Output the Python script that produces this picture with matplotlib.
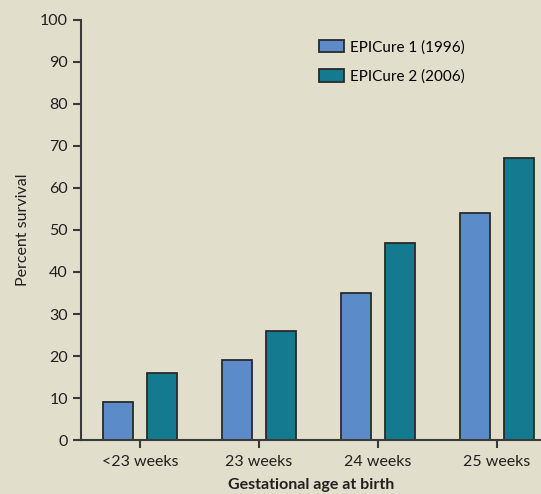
import numpy as np
import matplotlib
matplotlib.use("Agg")
import matplotlib.pyplot as plt

categories = ['<23 weeks', '23 weeks', '24 weeks', '25 weeks']
epicure1 = [9, 19, 35, 54]
epicure2 = [16, 26, 47, 67]

bg = '#e1dfcc'
plt.rcParams['font.family'] = ['Lato', 'DejaVu Sans']

fig = plt.figure(figsize=(5.41, 4.94), dpi=100, facecolor=bg)
ax = fig.add_axes([0.15, 0.109, 0.85, 0.851], facecolor=bg)

x = np.arange(len(categories))
w = 0.25
ax.bar(x - 0.185, epicure1, w, color='#5b8bc9', edgecolor='#2a2a2a', linewidth=1.3, label='EPICure 1 (1996)')
ax.bar(x + 0.185, epicure2, w, color='#137a8f', edgecolor='#2a2a2a', linewidth=1.3, label='EPICure 2 (2006)')

ax.set_xlim(-0.496, 3.37)
ax.set_ylim(0, 100)
ax.set_yticks(range(0, 101, 10))
ax.set_xticks(x)
ax.set_xticklabels(categories)
for s in ['top', 'right']:
    ax.spines[s].set_visible(False)
for s in ['left', 'bottom']:
    ax.spines[s].set_color('#3a3a3a')
    ax.spines[s].set_linewidth(1.5)
ax.tick_params(axis='both', colors='#3a3a3a', labelcolor='#231f20', labelsize=11.5, width=1.5, length=6)
ax.tick_params(axis='y', pad=3.5)
ax.tick_params(axis='x', pad=5)

ax.set_ylabel('Percent survival', fontsize=11.5, color='#231f20', labelpad=7)
ax.set_xlabel('Gestational age at birth', fontsize=11.5, fontweight='bold', color='#231f20', labelpad=6)

ax.legend(loc='upper left', bbox_to_anchor=(0.487, 0.985), frameon=False, fontsize=11,
          handlelength=1.65, handleheight=0.9, labelspacing=0.95, handletextpad=0.4)

fig.savefig('out.png', dpi=100, facecolor=bg)
